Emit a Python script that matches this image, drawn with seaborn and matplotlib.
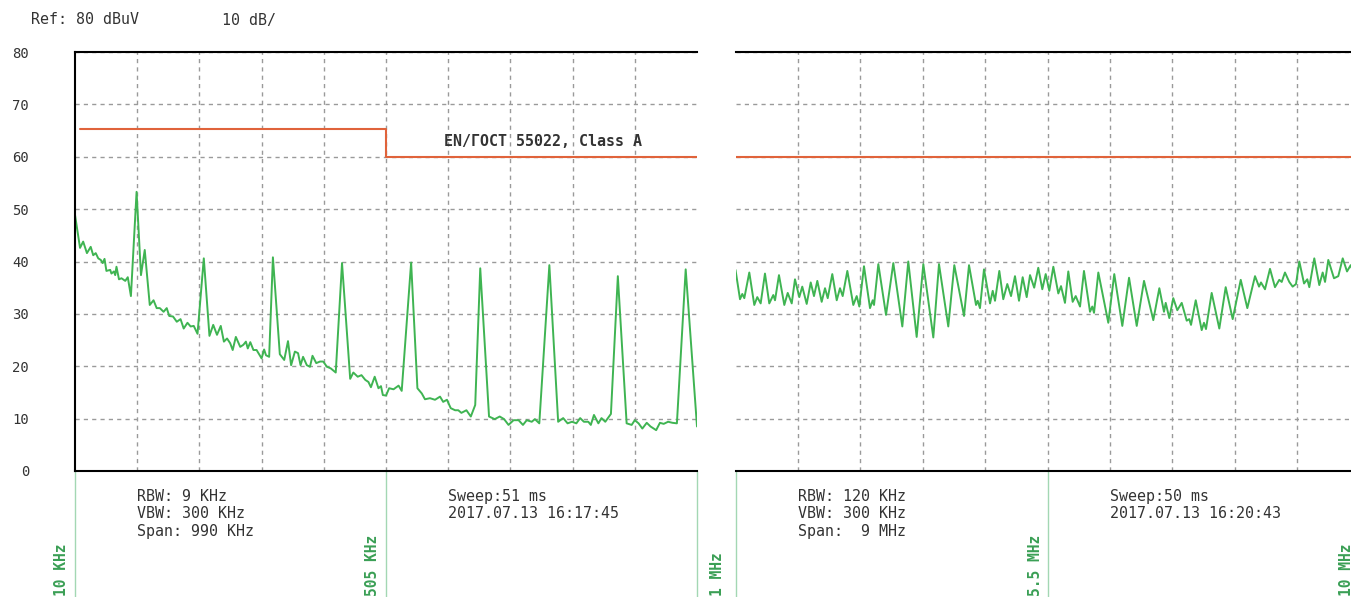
import matplotlib
matplotlib.use("Agg")
import matplotlib.pyplot as plt
import matplotlib.transforms as mtrans
import seaborn as sns
import pandas as pd

# ---------------- data ----------------
left_freq_khz = [10, 18, 23, 29, 35, 39, 43, 47, 51, 54,
                 57, 60, 66, 68, 72, 74, 76, 80, 84, 90,
                 94, 99, 108, 115, 121, 129, 135, 140, 145, 151,
                 156, 160, 166, 172, 178, 183, 189, 194, 199, 205,
                 215, 224, 230, 236, 242, 247, 252, 257, 261, 266,
                 273, 278, 282, 285, 289, 294, 299, 302, 307, 311,
                 314, 319, 325, 336, 343, 349, 354, 360, 365, 369,
                 373, 379, 384, 388, 394, 400, 405, 411, 417, 425,
                 435, 448, 453, 460, 466, 472, 477, 481, 487, 493,
                 497, 500, 505, 510, 517, 525, 530, 545, 555, 562,
                 567, 575, 583, 591, 596, 602, 608, 615, 620, 625,
                 633, 640, 647, 655, 669, 678, 686, 693, 700, 708,
                 716, 723, 729, 737, 742, 749, 765, 779, 787, 794,
                 801, 808, 814, 820, 827, 831, 836, 843, 848, 854,
                 863, 874, 888, 896, 901, 907, 913, 920, 926, 935,
                 941, 947, 954, 961, 968, 982, 1000]
left_level = [48.9, 42.6, 43.8, 41.6, 42.8, 41.2, 41.6, 40.6, 40.3, 39.7,
              40.5, 38.2, 38.4, 37.7, 38.1, 37.4, 39.0, 36.6, 36.8, 36.3,
              37.0, 33.4, 53.3, 37.4, 42.2, 31.7, 32.6, 31.1, 31.1, 30.4,
              31.1, 29.6, 29.5, 28.5, 29.0, 27.2, 28.3, 27.6, 27.7, 26.2,
              40.6, 25.8, 27.9, 26.0, 27.7, 24.7, 25.3, 24.4, 23.1, 25.6,
              23.7, 24.1, 24.7, 23.4, 24.6, 23.1, 23.1, 22.5, 21.5, 23.2,
              22.1, 21.8, 40.8, 22.3, 21.2, 24.8, 20.2, 22.8, 22.5, 20.2,
              21.8, 20.2, 19.9, 22.0, 20.6, 20.9, 20.9, 19.9, 19.6, 18.8,
              39.7, 17.6, 18.8, 18.0, 18.3, 17.4, 17.0, 16.0, 18.0, 15.8,
              16.2, 14.5, 14.4, 15.8, 15.6, 16.3, 15.3, 39.8, 15.8, 14.8,
              13.7, 13.9, 13.6, 14.2, 13.2, 13.6, 12.0, 11.6, 11.6, 11.1,
              11.6, 10.4, 12.6, 38.7, 10.4, 9.9, 10.4, 9.9, 8.8, 9.7,
              9.7, 8.8, 9.7, 9.4, 9.9, 9.1, 39.3, 9.4, 10.1, 9.1,
              9.4, 9.1, 10.1, 9.4, 9.4, 8.8, 10.7, 9.1, 10.1, 9.4,
              10.9, 37.2, 9.1, 8.8, 9.7, 9.1, 8.1, 9.2, 8.5, 7.8,
              9.2, 9.0, 9.4, 9.2, 9.1, 38.5, 8.5]

right_freq_mhz = [1.000, 1.065, 1.098, 1.127, 1.199, 1.271, 1.314, 1.363, 1.425, 1.487,
                  1.545, 1.570, 1.627, 1.704, 1.753, 1.811, 1.858, 1.920, 1.963, 2.027,
                  2.085, 2.132, 2.180, 2.243, 2.291, 2.330, 2.396, 2.460, 2.507, 2.546,
                  2.613, 2.699, 2.748, 2.786, 2.853, 2.940, 2.979, 2.998, 3.060, 3.171,
                  3.276, 3.406, 3.492, 3.613, 3.709, 3.853, 3.935, 4.069, 4.156, 4.296,
                  4.368, 4.469, 4.493, 4.526, 4.584, 4.671, 4.710, 4.743, 4.805, 4.862,
                  4.920, 4.974, 5.031, 5.089, 5.142, 5.200, 5.248, 5.308, 5.367, 5.425,
                  5.474, 5.526, 5.584, 5.656, 5.695, 5.752, 5.800, 5.863, 5.907, 5.969,
                  6.026, 6.113, 6.146, 6.171, 6.233, 6.377, 6.463, 6.579, 6.676, 6.787,
                  6.892, 7.026, 7.113, 7.180, 7.205, 7.257, 7.314, 7.372, 7.436, 7.508,
                  7.545, 7.570, 7.638, 7.724, 7.757, 7.786, 7.868, 7.978, 8.070, 8.171,
                  8.287, 8.382, 8.493, 8.551, 8.579, 8.637, 8.709, 8.781, 8.843, 8.878,
                  8.925, 8.987, 9.036, 9.084, 9.132, 9.200, 9.247, 9.276, 9.348, 9.420,
                  9.469, 9.503, 9.550, 9.632, 9.694, 9.758, 9.820, 9.873, 9.935, 10.0]
right_level = [38.4, 32.8, 33.8, 33.0, 37.9, 31.7, 33.2, 32.0, 37.7, 32.0,
               33.6, 32.6, 37.4, 31.7, 34.0, 32.0, 36.6, 33.2, 35.2, 31.9,
               36.0, 33.4, 36.3, 32.3, 34.9, 33.0, 37.6, 32.6, 34.9, 33.4,
               38.2, 31.7, 33.4, 31.4, 39.1, 31.1, 32.6, 31.7, 39.5, 29.8,
               39.7, 27.6, 40.0, 25.6, 39.5, 25.5, 39.5, 27.6, 39.3, 29.6,
               39.3, 31.7, 32.5, 31.1, 38.5, 32.0, 34.4, 32.5, 38.2, 32.8,
               35.7, 33.4, 37.2, 32.5, 37.0, 33.2, 37.4, 35.0, 38.8, 34.7,
               37.6, 34.4, 39.0, 33.9, 35.3, 32.1, 38.1, 32.3, 33.4, 31.4,
               38.2, 30.4, 31.4, 30.2, 37.9, 28.3, 37.6, 27.7, 36.9, 27.7,
               36.3, 28.8, 34.9, 30.4, 32.1, 29.2, 33.0, 30.7, 32.1, 28.7,
               29.0, 27.9, 32.6, 26.9, 28.3, 27.1, 34.0, 27.2, 35.1, 29.0,
               36.5, 31.1, 37.2, 35.2, 36.0, 34.7, 38.6, 35.1, 36.5, 36.1,
               37.9, 36.1, 35.2, 35.7, 40.0, 35.8, 36.6, 35.1, 40.6, 35.5,
               37.9, 36.1, 40.3, 36.8, 37.2, 40.6, 38.1, 39.3, 37.0, 39.0]

left_limit_freq = [18, 505, 505, 1000]
left_limit_level = [65.3, 65.3, 60, 60]
right_limit_freq = [1.0, 10.0]
right_limit_level = [60, 60]

y_ticks = [0, 10, 20, 30, 40, 50, 60, 70, 80]
left_range = (10, 1000)
right_range = (1, 10)
left_marks = [10, 505, 1000]
left_mark_labels = ["10 KHz", "505 KHz", ""]
right_marks = [1, 5.5, 10]
right_mark_labels = ["1 MHz", "5.5 MHz", "10 MHz"]

left_info = "RBW: 9 KHz\nVBW: 300 KHz\nSpan: 990 KHz"
left_sweep = "Sweep:51 ms\n2017.07.13 16:17:45"
right_info = "RBW: 120 KHz\nVBW: 300 KHz\nSpan:  9 MHz"
right_sweep = "Sweep:50 ms\n2017.07.13 16:20:43"
limit_name = "EN/ГОСТ 55022, Class A"

# ---------------- style ----------------
sns.set_theme(style="white")
plt.rcParams["font.family"] = ["DejaVu Sans Mono", "DejaVu Sans"]

TRACE = "#3fb452"
LIMIT = "#e0633b"
MARKLINE = "#a3d7b3"
MARKTEXT = "#3a9f55"
TXT = "#333333"
FS = 10.8

W, H = 1351, 597
fig = plt.figure(figsize=(W / 100, H / 100), dpi=100)
fig.patch.set_facecolor("white")
bot = (H - 471) / H
hgt = 419 / H
axL = fig.add_axes([75 / W, bot, 622 / W, hgt])
axR = fig.add_axes([735.5 / W, bot, 624 / W, hgt])

left_df = pd.DataFrame({"freq": left_freq_khz, "level": left_level})
right_df = pd.DataFrame({"freq": right_freq_mhz, "level": right_level})
left_lim = pd.DataFrame({"freq": left_limit_freq, "level": left_limit_level})
right_lim = pd.DataFrame({"freq": right_limit_freq, "level": right_limit_level})


def setup(ax, rng, show_left):
    lo, hi = rng
    ax.set_xlim(lo, hi)
    ax.set_ylim(0, 80)
    step = (hi - lo) / 10
    ax.set_xticks([lo + step * k for k in range(1, 10)])
    ax.set_yticks(y_ticks)
    ax.set_axisbelow(True)
    ax.grid(True, color="#9a9a9a", linestyle=(0, (3, 3)), linewidth=1)
    ax.tick_params(length=0, labelbottom=False, labelleft=show_left,
                   labelsize=10, labelcolor=TXT, pad=33)
    ax.set_xlabel("")
    ax.set_ylabel("")
    for s in ["top", "bottom", "left", "right"]:
        ax.spines[s].set_color("black")
        ax.spines[s].set_linewidth(1.5)
    ax.spines["right"].set_visible(False)
    if not show_left:
        ax.spines["left"].set_visible(False)


for ax, df, lim in [(axL, left_df, left_lim), (axR, right_df, right_lim)]:
    sns.lineplot(data=lim, x="freq", y="level", ax=ax, color=LIMIT, lw=1.5,
                 estimator=None, sort=False)
    sns.lineplot(data=df, x="freq", y="level", ax=ax, color=TRACE, lw=1.4,
                 estimator=None, sort=False)

setup(axL, left_range, True)
setup(axR, right_range, False)

# frequency marks below the plots
fig_bottom_ax = -bot / hgt
for ax, marks, labels, offs in [(axL, left_marks, left_mark_labels, [-6, -6, -6]),
                                (axR, right_marks, right_mark_labels, [-11, -4, -6])]:
    ax.vlines(marks, fig_bottom_ax, 0, transform=ax.get_xaxis_transform(),
              colors=MARKLINE, lw=1, clip_on=False)
    for m, lab, o in zip(marks, labels, offs):
        if not lab:
            continue
        tr = mtrans.offset_copy(ax.get_xaxis_transform(), fig=fig, x=o, y=1, units="dots")
        ax.text(m, fig_bottom_ax, lab, transform=tr, rotation=90, ha="right", va="bottom",
                fontsize=10.5, fontweight="bold", color=MARKTEXT, clip_on=False)

# info texts
for ax, info, sweep in [(axL, left_info, left_sweep), (axR, right_info, right_sweep)]:
    ax.text(0.1, -0.043, info, transform=ax.transAxes, ha="left", va="top",
            fontsize=FS, color=TXT, linespacing=1.2)
    ax.text(0.6, -0.043, sweep, transform=ax.transAxes, ha="left", va="top",
            fontsize=FS, color=TXT, linespacing=1.2)

axL.text(755, 63.0, limit_name, ha="center", va="center", fontsize=FS,
         fontweight="bold", color=TXT)

fig.text(31 / W, 1 - 20 / H, "Ref: 80 dBuV", ha="left", va="center", fontsize=FS, color=TXT)
fig.text(222 / W, 1 - 20 / H, "10 dB/", ha="left", va="center", fontsize=FS, color=TXT)

fig.savefig("out.png", dpi=100, facecolor="white")
